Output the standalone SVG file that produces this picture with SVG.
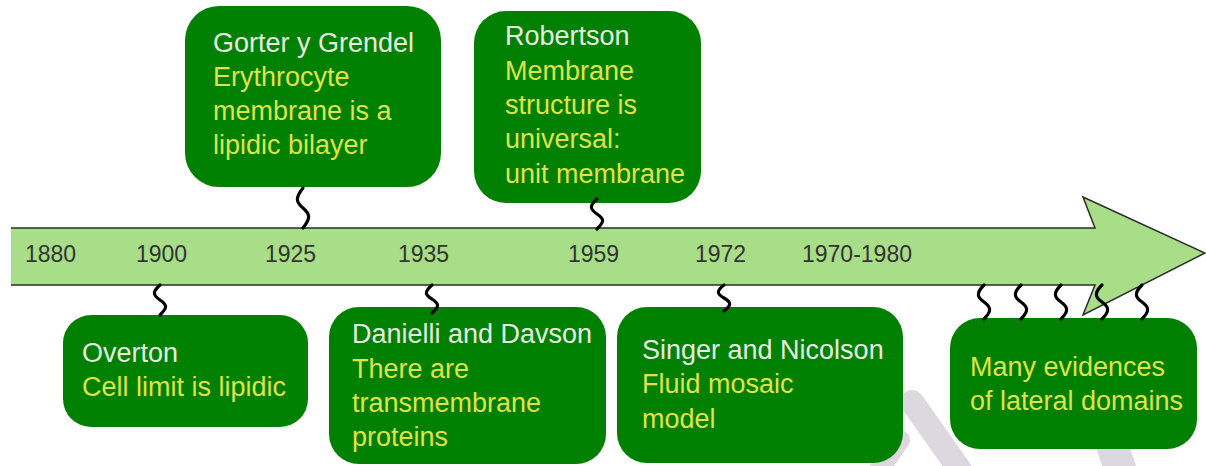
<svg xmlns="http://www.w3.org/2000/svg" width="1206" height="466" viewBox="0 0 1206 466">
<style>
.box{fill:#008000}
.t{font-family:"Liberation Sans",Arial,sans-serif;font-size:27px}
.ti{fill:#e6ece0}
.de{fill:#dfe34a}
.yr{font-family:"Liberation Sans",Arial,sans-serif;font-size:23px;fill:#333333}
.sq{fill:none;stroke:#000;stroke-width:3.2;stroke-linecap:round}
.wm{stroke:#ddd8e0;fill:none;stroke-linecap:round}
</style>
<rect width="1206" height="466" fill="#ffffff"/>
<g id="watermark">
<line class="wm" x1="912" y1="402" x2="960" y2="470" stroke-width="24"/>
<line class="wm" x1="900" y1="440" x2="872" y2="480" stroke-width="20"/>
<line class="wm" x1="1112" y1="445" x2="1124" y2="480" stroke-width="32"/>
</g>
<g id="timeline">
<polygon points="11,228 1095,228 1083,197 1205,253 1083,315 1095,285 11,285" fill="#a9de88"/>
<polyline points="11,228 1095,228 1083,197 1205,253 1083,315 1095,285 11,285" fill="none" stroke="#2b2b2b" stroke-width="1.5" stroke-linejoin="miter"/>
<text class="yr" x="25" y="262">1880</text>
<text class="yr" x="136" y="262">1900</text>
<text class="yr" x="265" y="262">1925</text>
<text class="yr" x="398" y="262">1935</text>
<text class="yr" x="568" y="262">1959</text>
<text class="yr" x="695" y="262">1972</text>
<text class="yr" x="802" y="262">1970-1980</text>
</g>
<g id="gorter">
<rect class="box" x="185" y="6" width="256" height="181" rx="34"/>
<text class="t ti" x="213" y="52">Gorter y Grendel</text>
<text class="t de" x="213" y="86">Erythrocyte</text>
<text class="t de" x="213" y="120">membrane is a</text>
<text class="t de" x="213" y="154">lipidic bilayer</text>
</g>
<g id="robertson">
<rect class="box" x="474" y="11" width="227" height="192" rx="32"/>
<text class="t ti" x="505" y="45">Robertson</text>
<text class="t de" x="505" y="80">Membrane</text>
<text class="t de" x="505" y="114">structure is</text>
<text class="t de" x="505" y="148">universal:</text>
<text class="t de" x="505" y="183">unit membrane</text>
</g>
<g id="overton">
<rect class="box" x="63" y="315" width="245" height="112" rx="28"/>
<text class="t ti" x="82" y="362">Overton</text>
<text class="t de" x="82" y="396">Cell limit is lipidic</text>
</g>
<g id="danielli">
<rect class="box" x="329" y="307" width="277" height="157" rx="30"/>
<text class="t ti" x="352" y="343">Danielli and Davson</text>
<text class="t de" x="352" y="378">There are</text>
<text class="t de" x="352" y="412">transmembrane</text>
<text class="t de" x="352" y="446">proteins</text>
</g>
<g id="singer">
<rect class="box" x="617" y="307" width="286" height="156" rx="30"/>
<text class="t ti" x="642" y="359">Singer and Nicolson</text>
<text class="t de" x="642" y="393">Fluid mosaic</text>
<text class="t de" x="642" y="428">model</text>
</g>
<g id="domains">
<rect class="box" x="950" y="318" width="247" height="131" rx="30"/>
<text class="t de" x="970" y="376">Many evidences</text>
<text class="t de" x="970" y="410">of lateral domains</text>
</g>
<g id="connectors">
<path class="sq" d="M303,188 c-8,10 -7,14 0,20 c7,6 8,10 0,20"/>
<path class="sq" d="M597,199 c-8,7 -7,10 0,15 c7,5 8,7 0,15"/>
<path class="sq" d="M160,285 c-8,7 -7,10 0,15 c7,5 8,7 0,15"/>
<path class="sq" d="M432,285 c-8,7 -7,10 0,14 c7,5 8,7 0,14"/>
<path class="sq" d="M724,285 c-8,6 -7,9 0,13 c7,4 8,7 0,13"/>
<path class="sq" d="M984,285 c-8,8 -7,12 0,17 c7,5 8,9 0,17"/>
<path class="sq" d="M1021,285 c-8,8 -7,12 0,17 c7,5 8,9 0,17"/>
<path class="sq" d="M1061,285 c-8,8 -7,12 0,17 c7,5 8,9 0,17"/>
<path class="sq" d="M1102,285 c-8,8 -7,12 0,17 c7,5 8,9 0,17"/>
<path class="sq" d="M1142,285 c-8,8 -7,12 0,17 c7,5 8,9 0,17"/>
</g>
</svg>
